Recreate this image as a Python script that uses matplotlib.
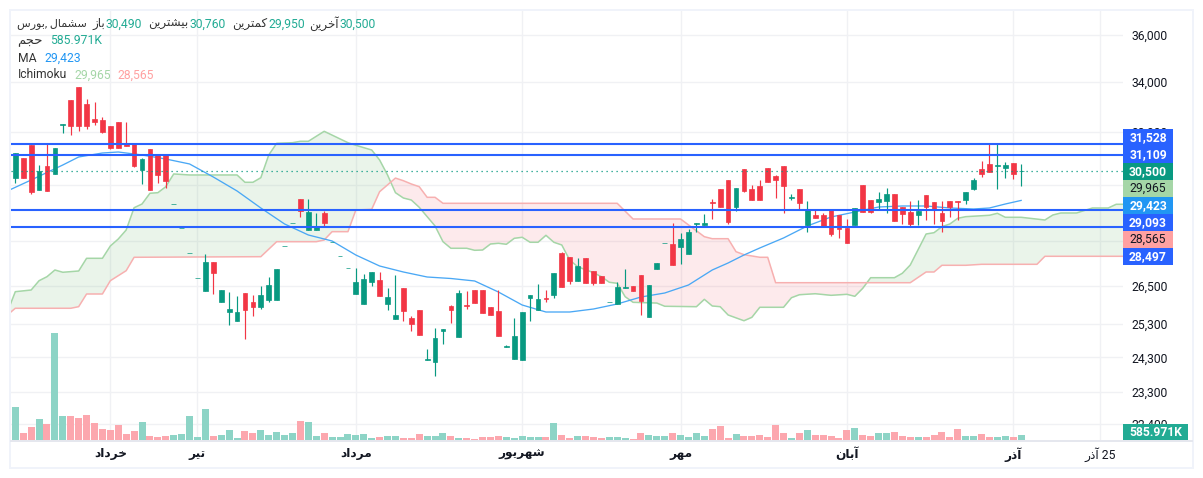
# -*- coding: utf-8 -*-
"""Daily candles of a Tehran stock with MA, Ichimoku cloud and volume."""

import matplotlib
matplotlib.use('Agg')
import matplotlib.pyplot as plt
from matplotlib.patches import Rectangle
from matplotlib.lines import Line2D
import numpy as np

plt.rcParams['font.family'] = ['Roboto', 'DejaVu Sans']

W, H = 1203, 478

opens = [30240, 30990, 31480, 29800, 30690, 30390, 32260, 33260, 33790, 33100, 32500, 32460, 32220, 32380, 31520, 31560,
         30540, 31330, 31140, 31100, 29280, 28440, 27590, 26760, 26350, 27300, 26000, 25680, 25400, 26280, 26000, 25840,
         26060, 26060, 27830, 28620, 29470, 28380, 28380, 28980, 27960, 27490, 27090, 26250, 25930, 26640, 26700, 25930,
         25460, 26440, 25490, 25740, 24220, 24160, 25090, 25870, 24910, 25900, 26380, 26380, 25840, 25710, 24610, 24250,
         24220, 26120, 25740, 26120, 26220, 27600, 27460, 26670, 27430, 27000, 26830, 25990, 25930, 26440, 26510, 26870,
         25520, 27060, 27930, 27900, 27800, 27560, 28590, 28560, 29370, 29840, 30170, 29190, 30570, 29840, 29950, 30610,
         30310, 30690, 29510, 29840, 28560, 28910, 28910, 29080, 28910, 28450, 28560, 29980, 29440, 29370, 29400, 29660,
         29190, 29010, 28910, 29620, 29370, 28980, 29400, 29400, 29440, 29840, 30570, 30760, 30690, 30610, 30800, 30490]
highs = [31175, 30990, 31480, 30720, 31560, 31370, 32300, 33260, 33790, 33300, 33180, 32580, 32220, 32380, 32380, 31560,
         30990, 31330, 31140, 31100, 29300, 28460, 27600, 26770, 27560, 27300, 26380, 26310, 26190, 26280, 26220, 26510,
         26800, 27060, 27840, 28630, 29470, 29470, 28980, 29050, 27970, 27500, 27100, 27100, 26900, 26960, 26960, 26440,
         26870, 26440, 25560, 25740, 24550, 25180, 25150, 25900, 26380, 26350, 26380, 26380, 25840, 26380, 24670, 25490,
         25680, 26220, 26570, 26380, 26930, 27630, 27460, 27430, 27430, 27000, 26830, 26000, 26640, 27060, 26510, 26870,
         26540, 27260, 27940, 28630, 28280, 28420, 28630, 28940, 29470, 29840, 30170, 29870, 30570, 29980, 30170, 30610,
         30350, 30690, 29660, 29840, 29400, 29120, 28980, 29080, 28910, 28760, 29150, 29980, 29440, 29730, 29870, 29660,
         29190, 29400, 29440, 29620, 29370, 29400, 29400, 29400, 29730, 30240, 30870, 31560, 31520, 30830, 30800, 30760]
lows = [30060, 30240, 29660, 29800, 29760, 30390, 31950, 31870, 32020, 32100, 32260, 31950, 31330, 31370, 31440, 30650,
        30020, 29800, 30060, 29870, 29280, 28440, 27590, 26760, 26350, 26250, 26000, 25280, 25400, 24850, 25560, 25780,
        26000, 26060, 27830, 28620, 28840, 28380, 28380, 28490, 27960, 27490, 27090, 26250, 25930, 26510, 26190, 25740,
        25460, 25400, 25090, 24970, 24220, 23750, 24700, 25340, 24910, 25780, 25960, 25650, 25590, 24940, 24610, 24250,
        24220, 25400, 25740, 26000, 26120, 26480, 26570, 26670, 26600, 26540, 26600, 25990, 25930, 26440, 26350, 25590,
        25520, 27060, 27930, 27200, 27230, 27560, 28310, 28560, 28760, 29190, 28590, 29050, 29730, 29440, 29440, 30090,
        29510, 28980, 29440, 29080, 28310, 28800, 28520, 28180, 28110, 27940, 28560, 29010, 28980, 29080, 28980, 28690,
        28590, 28490, 28560, 28730, 28590, 28310, 28840, 28730, 29300, 29800, 30280, 30460, 29840, 30240, 30200, 29950]
closes = [31175, 30240, 29730, 30500, 29760, 31370, 32300, 32220, 32220, 32220, 32380, 31980, 31370, 31370, 31440, 30690,
          30950, 29800, 30350, 30130, 29300, 28460, 27600, 26770, 27300, 26930, 26380, 25770, 25680, 25740, 25840, 26220,
          26540, 27060, 27840, 28630, 29050, 29010, 28520, 28630, 27970, 27500, 27100, 26640, 26740, 26960, 26190, 26150,
          25590, 25710, 25310, 24970, 24250, 24880, 25150, 25740, 26280, 25870, 25960, 25650, 25590, 24940, 24640, 24940,
          25680, 26220, 26090, 26090, 26930, 26480, 26670, 27160, 26600, 26600, 26600, 26000, 26480, 26480, 26350, 26030,
          26540, 27260, 27940, 27200, 28070, 28310, 28630, 28630, 29330, 29190, 28660, 29870, 29760, 29440, 29440, 30090,
          30170, 29950, 29550, 29330, 29120, 28800, 28520, 28240, 28420, 27940, 29150, 29010, 29010, 29470, 29660, 28690,
          28940, 28590, 29050, 29190, 29080, 28690, 29190, 29370, 29730, 30170, 30390, 30460, 30720, 30720, 30390, 30500]

# first value belongs to the bar just off the left edge
volumes_k = [1205, 3896, 854, 1556, 2492, 1907, 12554, 2843, 2843, 2609, 2960, 2024, 1322, 1205, 1790, 737, 1088,
             2141, 503, 386, 503, 620, 737, 2843, 386, 3662, 503, 620, 1205, 269, 1088, 854, 1205, 620, 971, 620, 854,
             2258, 2141, 503, 854, 386, 386, 737, 620, 737, 269, 386, 503, 503,
             234, 234, 702, 468, 468, 819, 468, 234, 234, 117, 351, 351, 468, 351, 234, 468, 351, 351, 351, 1989,
             585, 234, 468, 468, 351, 234, 351, 351, 234, 117, 819, 585, 468, 468, 819, 585, 351, 819, 468, 1287,
             1638, 234, 702, 468, 468, 585, 351, 1755, 819, 234, 819, 1170, 585, 585, 468, 234, 1170, 1404, 585, 468,
             819, 819, 936, 468, 351, 351, 351, 585, 936, 351, 1287, 468, 468, 702, 351, 351, 468, 351, 586]

ma_idx = [-1, 2, 6, 8, 11, 13, 16, 19, 22, 25, 28, 31, 34, 37, 40, 43, 46, 49, 52, 55, 58, 61, 64, 67, 70, 73, 76, 79,
          82, 85, 88, 90, 92, 94, 97, 100, 103, 106, 109, 112, 115, 118, 121, 123, 125, 127]
ma_vals = [29764, 30165, 30723, 31024, 31175, 31213, 31099, 30948, 30761, 30276, 29764, 29153, 28590, 28209, 28003,
           27528, 27162, 26964, 26800, 26751, 26670, 26314, 25900, 25680, 25680, 25774, 25932, 26154, 26282, 26540,
           27030, 27262, 27528, 27765, 28106, 28520, 28835, 29011, 29188, 29224, 29224, 29153, 29117, 29153, 29295,
           29423]

span_a_idx = [-1, 0, 2, 3, 4, 5, 6, 8, 9, 11, 12, 13, 14, 15, 16, 17, 18, 19, 20, 22, 28, 29, 30, 31, 32, 33, 35, 36,
              37, 39, 42, 43, 45, 46, 47, 48, 49, 50, 51, 53, 54, 55, 57, 58, 59, 60, 61, 62, 63, 64, 65, 66, 67, 68,
              69, 70, 71, 73, 74, 75, 76, 77, 78, 81, 82, 86, 87, 88, 89, 90, 92, 93, 94, 97, 98, 99, 101, 103, 105,
              106, 107, 108, 111, 112, 113, 115, 116, 117, 118, 119, 120, 123, 124, 125, 127, 130, 131, 132, 134,
              136, 138, 139, 140]
span_a_vals = [25680, 26324, 26378, 26679, 26810, 27030, 26955, 26997, 27418, 27418, 27833, 28071, 28381, 29163, 29295,
               29681, 29702, 29920, 30388, 30351, 30351, 30081, 30081, 30250, 31099, 31546, 31569, 31623, 31623, 32011,
               31569, 31469, 31289, 30910, 30351, 29702, 29510, 29438, 29178, 28520, 27979, 27755, 27755, 27687, 27697,
               27901, 27925, 27891, 28095, 28130, 27959, 27959, 28198, 27959, 27867, 27361, 27139, 26941, 26810, 26628,
               26595, 26164, 25985, 25962, 25860, 25847, 26080, 25869, 25847, 25587, 25408, 25514, 25828, 25828, 26132,
               26227, 26259, 26208, 26240, 26176, 26433, 26777, 26777, 26922, 27195, 28243, 28288, 28497, 28590, 28789,
               28846, 28895, 28965, 28824, 28824, 28729, 28905, 28976, 28976, 29153, 29153, 29285, 29285]

span_b_idx = [-1, 0, 7, 8, 9, 11, 12, 14, 15, 31, 33, 38, 39, 40, 42, 43, 45, 46, 48, 49, 50, 51, 52, 53, 54, 76, 78,
              84, 87, 88, 90, 91, 92, 94, 95, 96, 113, 115, 116, 117, 120, 122, 129, 130, 140]
span_b_vals = [25587, 25797, 25797, 25847, 26250, 26250, 26679, 27007, 27452, 27472, 27979, 27979, 28037, 28323, 28323,
               29081, 29106, 29738, 30236, 30139, 30019, 29920, 29535, 29535, 29320, 29320, 28764, 28764, 28150, 28081,
               28081, 27640, 27540, 27452, 27452, 26614, 26614, 26964, 26964, 27185, 27185, 27218, 27218, 27485, 27485]

hlines = [31528, 31109, 29093, 28497]
last_price = 30500
price_ticks = [36000, 34000, 32000, 30000, 28000, 26500, 25300, 24300, 23300, 22400]
hidden_ticks = [30000, 28000]  # sit fully behind the price tags
month_idx = [12, 23, 43, 64, 84, 105, 126]
month_names = ['خرداد', 'تیر', 'مرداد', 'شهریور', 'مهر', 'آبان', 'آذر']
tag_labels = ['31,528', '31,109', '30,500', '29,965', '29,423', '29,093', '28,565', '28,497']

GREEN, RED = '#089981', '#f23645'
BLUE = '#2962ff'
LINE_A, LINE_B = '#a5d6a7', '#f7b0b0'


# matplotlib has no arabic shaping, so pick the joined forms by hand
FORMS = {'ا': (0xFE8D, 0xFE8E), 'آ': (0xFE81, 0xFE82), 'ب': (0xFE8F, 0xFE90, 0xFE91, 0xFE92),
         'ت': (0xFE95, 0xFE96, 0xFE97, 0xFE98), 'ج': (0xFE9D, 0xFE9E, 0xFE9F, 0xFEA0),
         'ح': (0xFEA1, 0xFEA2, 0xFEA3, 0xFEA4), 'خ': (0xFEA5, 0xFEA6, 0xFEA7, 0xFEA8),
         'د': (0xFEA9, 0xFEAA), 'ذ': (0xFEAB, 0xFEAC), 'ر': (0xFEAD, 0xFEAE), 'ز': (0xFEAF, 0xFEB0),
         'س': (0xFEB1, 0xFEB2, 0xFEB3, 0xFEB4), 'ش': (0xFEB5, 0xFEB6, 0xFEB7, 0xFEB8),
         'ک': (0xFB8E, 0xFB8F, 0xFB90, 0xFB91), 'ل': (0xFEDD, 0xFEDE, 0xFEDF, 0xFEE0),
         'م': (0xFEE1, 0xFEE2, 0xFEE3, 0xFEE4), 'ن': (0xFEE5, 0xFEE6, 0xFEE7, 0xFEE8),
         'ه': (0xFEE9, 0xFEEA, 0xFEEB, 0xFEEC), 'و': (0xFEED, 0xFEEE),
         'ی': (0xFBFC, 0xFBFD, 0xFBFE, 0xFBFF)}


def fa(word):
    out = ''
    for n, ch in enumerate(word):
        f = FORMS[ch]
        prev = n > 0 and len(FORMS[word[n - 1]]) == 4
        nxt = n < len(word) - 1 and len(f) == 4
        if prev and nxt:
            out += chr(f[3])
        elif nxt:
            out += chr(f[2])
        elif prev:
            out += chr(f[1])
        else:
            out += chr(f[0])
    return out[::-1]


def fx(x):
    return x / W


def fy(y):
    return 1 - y / H


def rect(x0, y0, x1, y1, color, z=5):
    fig.add_artist(Rectangle((fx(x0), fy(y1)), (x1 - x0) / W, (y1 - y0) / H, transform=fig.transFigure,
                             facecolor=color, edgecolor='none', zorder=z))


def label(x, y, s, color='#131722', size=8.7, ha='left', weight='normal', z=7):
    fig.text(fx(x), fy(y), s, color=color, fontsize=size, ha=ha, va='center', fontweight=weight, zorder=z)


fig = plt.figure(figsize=(W / 100, H / 100), dpi=100, facecolor='white')
ax = fig.add_axes([fx(11), fy(440), (1123 - 11) / W, (440 - 11) / H])
ax.set_yscale('log')
ax.set_ylim(36000 * np.exp(-405 / 820), 36000 * np.exp(24 / 820))
ax.set_xlim((11 - 15.3) / 7.92, (1123 - 15.3) / 7.92)
ax.set_zorder(1)

# grid
ax.set_yticks(price_ticks)
ax.set_yticklabels(['' if p in hidden_ticks else f'{p:,}' for p in price_ticks], fontsize=8.7, color='#131722')
ax.yaxis.set_minor_locator(matplotlib.ticker.NullLocator())
ax.yaxis.tick_right()
ax.tick_params(axis='y', length=0, pad=6)
ax.set_xticks(month_idx + [137])
ax.set_xticklabels([fa(m) for m in month_names] + [fa('آذر') + ' 25'], fontsize=8.7, color='#131722')
for t in ax.get_xticklabels()[:-1]:
    t.set_fontweight('bold')
ax.tick_params(axis='x', length=0, pad=5)
ax.grid(True, color='#f0f1f4', lw=1.0)
ax.set_axisbelow(True)
for s in ax.spines.values():
    s.set_visible(False)

# ichimoku cloud
grid_x = np.arange(-1, 141, 0.25)
a_on_grid = np.interp(grid_x, span_a_idx, span_a_vals)
b_on_grid = np.interp(grid_x, span_b_idx, span_b_vals)
ax.fill_between(grid_x, a_on_grid, b_on_grid, where=a_on_grid >= b_on_grid, interpolate=True,
                color='#43a047', alpha=0.11, lw=0, zorder=1.2)
ax.fill_between(grid_x, a_on_grid, b_on_grid, where=a_on_grid <= b_on_grid, interpolate=True,
                color='#f23645', alpha=0.1, lw=0, zorder=1.2)
ax.plot(span_a_idx, span_a_vals, color=LINE_A, lw=1.1, zorder=1.5)
ax.plot(span_b_idx, span_b_vals, color=LINE_B, lw=1.1, zorder=1.5)
ax.plot(ma_idx, ma_vals, color='#4aa8f5', lw=0.95, zorder=1.6)

# candles
idx = np.arange(len(opens))
o, h, l, c = map(np.array, (opens, highs, lows, closes))
up = c >= o
colors = np.where(up, GREEN, RED)
ax.vlines(idx, l, h, colors=colors, lw=0.85, zorder=2)
ax.bar(idx, np.abs(c - o), bottom=np.minimum(o, c), width=0.6, color=colors, edgecolor=colors, lw=0.5, zorder=2.1)

# price lines
ax.hlines(hlines, ax.get_xlim()[0], ax.get_xlim()[1], colors=BLUE, lw=1.5, zorder=3)
ax.axhline(last_price, color=GREEN, lw=0.9, ls=(0, (1, 3)), zorder=2.5)

# volume on its own scale, 117k per pixel
ax_vol = fig.add_axes(ax.get_position(), sharex=ax, frameon=False)
ax_vol.set_zorder(2)
ax_vol.set_ylim(0, 429 * 117)
ax_vol.axis('off')
vol_x = np.arange(-1, len(opens))
vol_up = np.concatenate(([False], up))
ax_vol.bar(vol_x, volumes_k, width=0.88, color=np.where(vol_up, '#8dd4c6', '#fca7ae'), lw=0)

# card outline and axis line
rect(9, 9, 1194, 11, '#f0f3fa', z=4)
rect(9, 467, 1194, 469, '#f0f3fa', z=4)
rect(9, 9, 11, 469, '#f0f3fa', z=4)
rect(1192, 9, 1194, 469, '#f0f3fa', z=4)
fig.add_artist(Line2D([fx(11), fx(1192)], [fy(440.5), fy(440.5)], color='#e0e3eb', lw=1.2, zorder=4))

# price tags
tag_colors = [BLUE, BLUE, GREEN, LINE_A, '#2196f3', BLUE, '#ffa1a1', BLUE]
tag_text = ['white', 'white', 'white', '#131722', 'white', 'white', '#131722', 'white']
for n, (s, tc, fc) in enumerate(zip(tag_labels, tag_text, tag_colors)):
    rect(1123, 129 + 17 * n, 1173, 146 + 17 * n, fc, z=5)
    label(1148, 137.5 + 17 * n, s, color=tc, ha='center', weight='bold' if tc == 'white' else 'normal')
rect(1123, 424, 1188, 440, '#22ab94', z=5)
label(1155.5, 432.5, '585.971K', color='white', ha='center', weight='bold')

# legend block
GRN_TXT = '#22ab94'
TXT = '#333333'
label(87, 24, fa('بورس') + ', ' + fa('سشمال'), color=TXT, size=8.0, ha='right')
label(105, 24, fa('باز'), color=TXT, size=8.6, ha='right')
label(106, 24, '30,490', color=GRN_TXT)
label(188, 24, fa('بیشترین'), color=TXT, size=8.6, ha='right')
label(190, 24, '30,760', color=GRN_TXT)
label(267, 24, fa('کمترین'), color=TXT, size=8.6, ha='right')
label(268, 24, '29,950', color=GRN_TXT)
label(339, 24, fa('آخرین'), color=TXT, size=8.6, ha='right')
label(340, 24, '30,500', color=GRN_TXT)
label(43, 41, fa('حجم'), color=TXT, size=9.5, ha='right')
label(50, 41, '585.971K', color=GRN_TXT)
label(18, 58, 'MA', color=TXT)
label(44, 58, '29,423', color='#2196f3')
label(18, 75, 'Ichimoku', color=TXT)
label(74, 75, '29,965', color=LINE_A)
label(117, 75, '28,565', color='#ffa1a1')

fig.savefig('out.png', dpi=100, facecolor='white')
